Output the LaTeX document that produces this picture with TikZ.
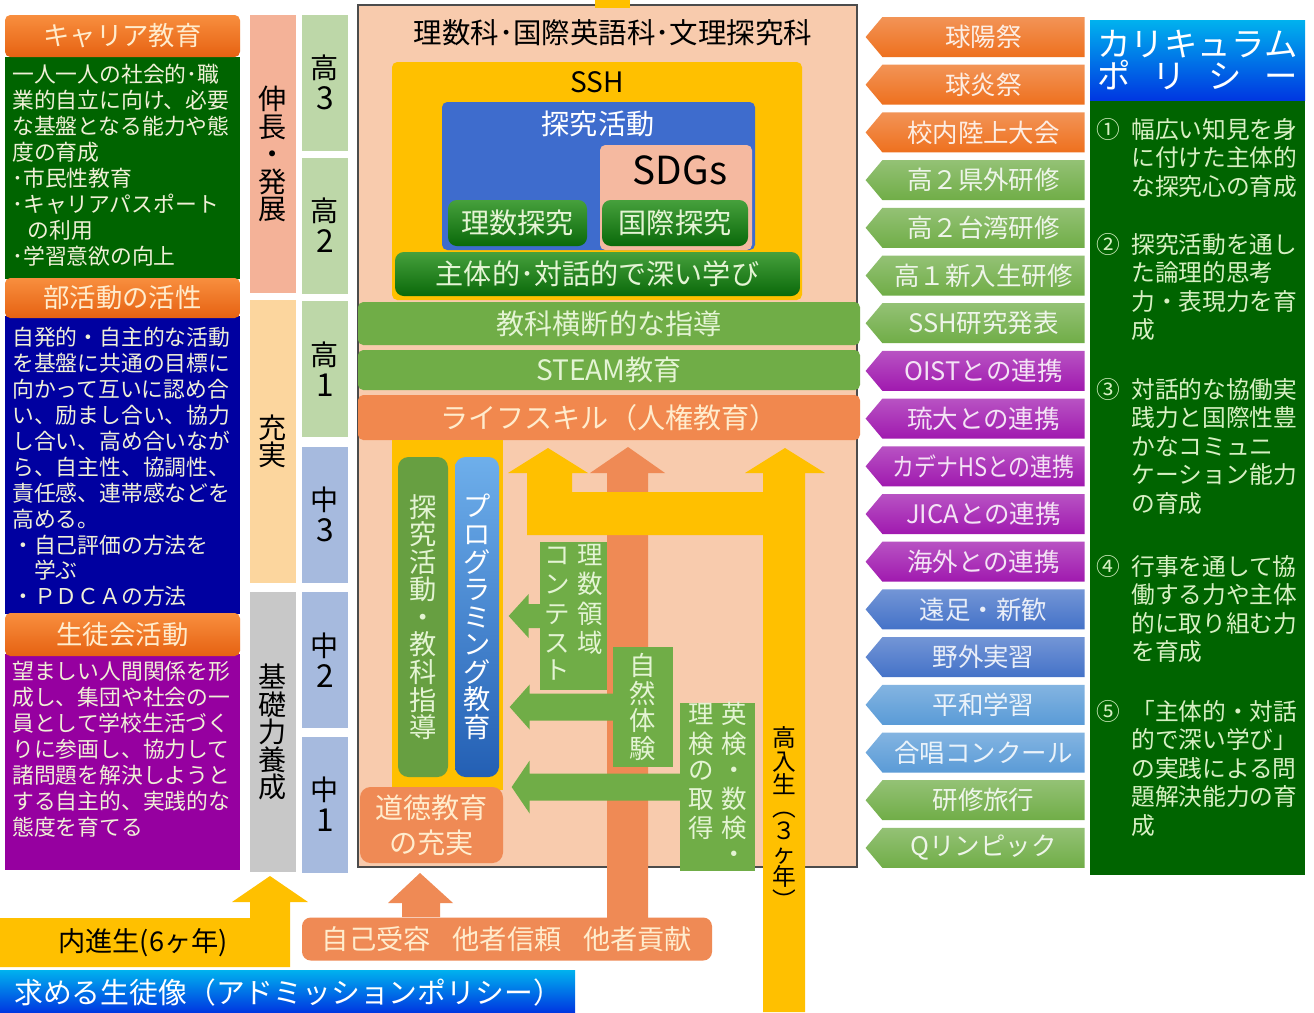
\documentclass[tikz,border=0pt]{standalone}
\usepackage{fontspec}
\setmainfont{Noto Sans CJK JP}
\usetikzlibrary{shapes.symbols}

\definecolor{headorangeA}{RGB}{248,142,62}
\definecolor{headorangeB}{RGB}{230,98,18}
\definecolor{headtext}{RGB}{255,236,205}
\definecolor{careergreen}{RGB}{0,100,0}
\definecolor{clubblue}{RGB}{0,0,160}
\definecolor{councilpurple}{RGB}{150,0,160}
\definecolor{paletext}{RGB}{240,240,215}
\definecolor{growsalmon}{RGB}{244,178,152}
\definecolor{fulfilyellow}{RGB}{252,214,158}
\definecolor{basicgray}{RGB}{200,200,200}
\definecolor{gradegreen}{RGB}{189,215,168}
\definecolor{gradeblue}{RGB}{166,186,222}
\definecolor{framepeach}{RGB}{248,203,173}
\definecolor{sshyellow}{RGB}{255,192,0}
\definecolor{inquiryblue}{RGB}{62,108,205}
\definecolor{sdgsalmon}{RGB}{245,185,160}
\definecolor{deepgreenA}{RGB}{70,160,60}
\definecolor{deepgreenB}{RGB}{10,105,10}
\definecolor{leafgreen}{RGB}{112,173,71}
\definecolor{leaftext}{RGB}{228,244,212}
\definecolor{lifeorange}{RGB}{241,136,78}
\definecolor{floworange}{RGB}{239,138,85}
\definecolor{progblueA}{RGB}{110,175,235}
\definecolor{progblueB}{RGB}{35,95,180}
\definecolor{tagorange}{RGB}{238,112,30}
\definecolor{taggreen}{RGB}{112,173,71}
\definecolor{tagpurple}{RGB}{160,25,175}
\definecolor{tagblue}{RGB}{68,114,200}
\definecolor{tagsky}{RGB}{90,155,215}
\definecolor{policygreen}{RGB}{0,100,0}
\definecolor{policytext}{RGB}{215,240,195}
\definecolor{policycyan}{RGB}{0,178,238}
\definecolor{policyblue}{RGB}{0,55,225}

\begin{document}
\begin{tikzpicture}[x=0.02cm,y=-0.02cm]

    \def \pxu {0.02cm} % one pixel of the reference
    \tikzset{wh/.style 2 args={minimum width=#1*\pxu, minimum height=#2*\pxu}}

    \tikzstyle{headbar}=[rounded corners=3pt, top color=headorangeA, bottom color=headorangeB, text=headtext, inner sep=0, font=\fontsize{15}{18}\selectfont]
    \tikzstyle{bodytext}=[anchor=north west, align=left, inner sep=0, text=paletext, font=\fontsize{12.4}{14.75}\selectfont]
    \tikzstyle{stage}=[inner sep=0, align=center, font=\fontsize{16}{15.7}\selectfont]
    \tikzstyle{grade}=[stage, wh={46}{136}, font=\fontsize{16}{17.5}\selectfont]
    \tikzstyle{bar}=[rounded corners=3pt, inner sep=0, font=\fontsize{16}{18}\selectfont]
    \tikzstyle{deepbox}=[rounded corners=5pt, top color=deepgreenA, bottom color=deepgreenB, text=leaftext, inner sep=0, font=\fontsize{16}{18}\selectfont]
    \tikzstyle{vtext}=[inner sep=0, align=center, font=\fontsize{15.5}{15.7}\selectfont]
    \tikzstyle{leafbox}=[fill=leafgreen, inner sep=0, text=leaftext, font=\fontsize{14.5}{14.8}\selectfont]
    \tikzstyle{tag}=[shape=signal, signal to=west, signal pointer angle=100, wh={219}{40}, inner sep=0, font=\fontsize{14.5}{16}\selectfont]
    \tikzstyle{policyitem}=[anchor=north west, align=left, inner sep=0, text=policytext, font=\fontsize{13.5}{16.2}\selectfont]

    \newcommand\gradelabel[2]{#1\\{\fontsize{18}{17.5}\selectfont #2}}

    \useasboundingbox (0,0) rectangle (1314,1012);
    \fill[white] (0,0) rectangle (1314,1012);

    % the three activity panels on the left
    \fill[careergreen] (5,57) rectangle (240,279);
    \node[headbar, wh={235}{42}] (careerhead) at (122.5,36) {キャリア教育};
    \node[bodytext] (careerbody) at (12,64) {一人一人の社会的･職\\業的自立に向け、必要\\な基盤となる能力や態\\度の育成\\･市民性教育\\･キャリアパスポート\\\hspace*{0.7em}の利用\\･学習意欲の向上};

    \fill[clubblue] (5,316) rectangle (240,614);
    \node[headbar, wh={235}{40}] (clubhead) at (122.5,298) {部活動の活性};
    \node[bodytext] (clubbody) at (12,327) {自発的・自主的な活動\\を基盤に共通の目標に\\向かって互いに認め合\\い、励まし合い、協力\\し合い、高め合いなが\\ら、自主性、協調性、\\責任感、連帯感などを\\高める。\\・自己評価の方法を\\　学ぶ\\・ＰＤＣＡの方法};

    \fill[councilpurple] (5,654) rectangle (240,870);
    \node[headbar, wh={235}{43}] (councilhead) at (122.5,634.5) {生徒会活動};
    \node[bodytext] (councilbody) at (12,661) {望ましい人間関係を形\\成し、集団や社会の一\\員として学校生活づく\\りに参画し、協力して\\諸問題を解決しようと\\する自主的、実践的な\\態度を育てる};

    % stages and grades
    \node[stage, fill=growsalmon, wh={46}{278}] (grow) at (273,154) {伸\\長\\・\\発\\展};
    \node[stage, fill=fulfilyellow, wh={46}{283}] (fulfil) at (273,441.5) {充\\実};
    \node[stage, fill=basicgray, wh={46}{280}] (basic) at (273,732) {基\\礎\\力\\養\\成};

    \node[grade, fill=gradegreen] (high3) at (325,82.5) {\gradelabel{高}{3}};
    \node[grade, fill=gradegreen] (high2) at (325,225.5) {\gradelabel{高}{2}};
    \node[grade, fill=gradegreen] (high1) at (325,369) {\gradelabel{高}{1}};
    \node[grade, fill=gradeblue] (mid3) at (325,514.5) {\gradelabel{中}{3}};
    \node[grade, fill=gradeblue] (mid2) at (325,660) {\gradelabel{中}{2}};
    \node[grade, fill=gradeblue] (mid1) at (325,804.5) {\gradelabel{中}{1}};

    % the course frame in the middle
    \node[draw=black!70, line width=0.8pt, fill=framepeach, wh={499}{862}, inner sep=0] (frame) at (607.5,436) {};
    \fill[sshyellow] (595,-1) rectangle (630,8);
    \node[inner sep=0, font=\fontsize{16.2}{18}\selectfont] (course) at (613,33) {理数科･国際英語科･文理探究科};

    \node[rounded corners=3pt, fill=sshyellow, wh={410}{238}] (ssh) at (597,181) {};
    \node[inner sep=0, font=\fontsize{16}{18}\selectfont] (sshlabel) at (597,82) {SSH};
    \node[rounded corners=3pt, fill=inquiryblue, wh={313}{148}] (inquiry) at (598.5,176) {};
    \node[inner sep=0, text=white, font=\fontsize{16}{18}\selectfont] (inquirylabel) at (598,124) {探究活動};
    \node[rounded corners=3pt, fill=sdgsalmon, wh={152}{105}] (sdgs) at (676,197.5) {};
    \node[inner sep=0, font=\fontsize{22}{24}\selectfont] (sdgslabel) at (680,170) {SDGs};
    \node[deepbox, wh={139}{46}] (rikatan) at (517.5,223) {理数探究};
    \node[deepbox, wh={146}{46}] (kokutan) at (675,223) {国際探究};
    \node[deepbox, wh={405}{44}] (deep) at (597.5,274) {主体的･対話的で深い学び};

    \node[bar, fill=leafgreen, text=leaftext, wh={502}{43}] (cross) at (609,323.5) {教科横断的な指導};
    \node[bar, fill=leafgreen, text=leaftext, wh={502}{40}] (steam) at (609,370) {STEAM教育};
    \node[bar, fill=lifeorange, text=headtext, wh={502}{45}] (life) at (609,417.5) {ライフスキル（人権教育）};

    % subject columns
    \fill[sshyellow] (392,440) rectangle (503,790);
    \node[vtext, rounded corners=6pt, fill=leafgreen!92!black, text=leaftext, wh={50}{320}] (subjects) at (423,617) {探\\究\\活\\動\\・\\教\\科\\指\\導};
    \node[vtext, rounded corners=6pt, top color=progblueA, bottom color=progblueB, text=white, wh={44}{320}] (programming) at (477,617) {プ\\ロ\\グ\\ラ\\ミ\\ン\\グ\\教\\育};
    \node[rounded corners=6pt, fill=floworange, text=headtext, wh={143}{76}, inner sep=0, align=center, font=\fontsize{16}{20}\selectfont] (moral) at (431.5,825) {道徳教育\\の充実};

    % the flows upward
    \fill[floworange] (607,918) -- (607,473) -- (590,473) -- (628,447) -- (665,473) -- (648,473) -- (648,918) -- cycle;
    \fill[sshyellow] (527,535) -- (527,473) -- (508,473) -- (548,448) -- (588,473) -- (572,473) -- (572,492) -- (763,492) -- (763,473) -- (745,473) -- (785,448) -- (825,473) -- (805,473) -- (805,1012) -- (763,1012) -- (763,535) -- cycle;

    % the experiences feeding the subject columns
    \node[leafbox, wh={67}{148}] (contest) at (573.5,616) {\begin{tabular}{@{}c@{\hspace{4pt}}c@{}}コ&理\\ン&数\\テ&領\\ス&域\\ト&\end{tabular}};
    \node[leafbox, wh={60}{120}, align=center, font=\fontsize{15}{15.8}\selectfont] (nature) at (643,707) {自\\然\\体\\験};
    \node[leafbox, wh={75}{160}] (cert) at (717.5,787) {\begin{tabular}{@{}c@{\hspace{4pt}}c@{}}理&英\\検&検\\の&・\\取&数\\得&検\\&・\end{tabular}};

    \fill[leafgreen] (contest.west) ++(1,-12) -- ++(-12,0) -- ++(0,-10) -- ++(-20,22) -- ++(20,22) -- ++(0,-10) -- ++(12,0) -- cycle;
    \fill[leafgreen] (nature.west) ++(1,-13.5) -- ++(-84,0) -- ++(0,-9) -- ++(-20,22.5) -- ++(20,22.5) -- ++(0,-9) -- ++(84,0) -- cycle;
    \fill[leafgreen] (cert.west) ++(1,-13.5) -- ++(-151,0) -- ++(0,-13) -- ++(-18,26.5) -- ++(18,26.5) -- ++(0,-13) -- ++(151,0) -- cycle;

    \node[vtext, font=\fontsize{13.5}{13.2}\selectfont] (entrants) at (784,818) {高\\入\\生\\︵\\３\\ヶ\\年\\︶};

    % the bottom: where the students come from
    \fill[sshyellow] (0,967) -- (0,918) -- (250,918) -- (250,902) -- (232,902) -- (270,876) -- (308,902) -- (290,902) -- (290,967) -- cycle;
    \node[inner sep=0, font=\fontsize{15.5}{17}\selectfont] (inner) at (143,943) {内進生(6ヶ年)};
    \node[rounded corners=5pt, fill=floworange, text=headtext, wh={410}{43}, inner sep=0, font=\fontsize{15.5}{18}\selectfont] (self) at (507,939) {自己受容\hspace{0.8em}他者信頼\hspace{0.8em}他者貢献};
    \fill[floworange] (self.north -| 402,0) -- (402,903) -- (388,903) -- (420,873) -- (453,903) -- (440,903) -- (self.north -| 440,0) -- cycle;
    \node[top color=policycyan, bottom color=policyblue, wh={575}{42}, inner sep=0] (admission) at (287.5,991) {};
    \node[anchor=west, inner sep=0, text=white, font=\fontsize{16.4}{18}\selectfont] (admissionlabel) at (14,993) {求める生徒像（アドミッションポリシー）};

    % the events on the right
    \foreach \tagname/\tagcol/\tagtext [count=\i from 0] in {
        kyuyo/tagorange/球陽祭, kyuen/tagorange/球炎祭, rikujo/tagorange/校内陸上大会,
        kengai/taggreen/高２県外研修, taiwan/taggreen/高２台湾研修, shinnyu/taggreen/高１新入生研修, sshhappyo/taggreen/SSH研究発表,
        oist/tagpurple/OISTとの連携, ryudai/tagpurple/琉大との連携, kadena/tagpurple/{\scalebox{0.86}[1]{カデナHSとの連携}}, jica/tagpurple/JICAとの連携, kaigai/tagpurple/海外との連携,
        ensoku/tagblue/遠足・新歓, yagai/tagblue/野外実習, heiwa/tagsky/平和学習, gassho/tagsky/合唱コンクール,
        kenshu/taggreen/研修旅行, qlympic/taggreen/Qリンピック} {
        \node[tag, top color=\tagcol!75!white, bottom color=\tagcol, text=\tagcol!12!white] (\tagname) at (983.5,{37+47.7*\i}) {\tagtext};
    }

    % the curriculum policy
    \fill[policygreen] (1090,100) rectangle (1305,875);
    \node[top color=policycyan, bottom color=policyblue, wh={215}{80}, inner sep=0, align=center, text=white, font=\fontsize{19}{18}\selectfont] (policyhead) at (1197.5,60) {\makebox[4.02cm]{カ\hfill リ\hfill キ\hfill ュ\hfill ラ\hfill ム}\\\makebox[4.02cm]{ポ\hfill リ\hfill シ\hfill ー}};

    \node[policyitem] (aim1) at (1131,118) {幅広い知見を身\\に付けた主体的\\な探究心の育成};
    \node[policyitem] (aim2) at (1131,233) {探究活動を通し\\た論理的思考\\力・表現力を育\\成};
    \node[policyitem] (aim3) at (1131,378) {対話的な協働実\\践力と国際性豊\\かなコミュニ\\ケーション能力\\の育成};
    \node[policyitem] (aim4) at (1131,555) {行事を通して協\\働する力や主体\\的に取り組む力\\を育成};
    \node[policyitem] (aim5) at (1131,700) {「主体的・対話\\的で深い学び」\\の実践による問\\題解決能力の育\\成};
    \foreach \aim/\mark in {aim1/①, aim2/②, aim3/③, aim4/④, aim5/⑤}
        \node[policyitem, anchor=north east, xshift=-6pt] (\aim mark) at (\aim.north west) {\mark};

\end{tikzpicture}
\end{document}
